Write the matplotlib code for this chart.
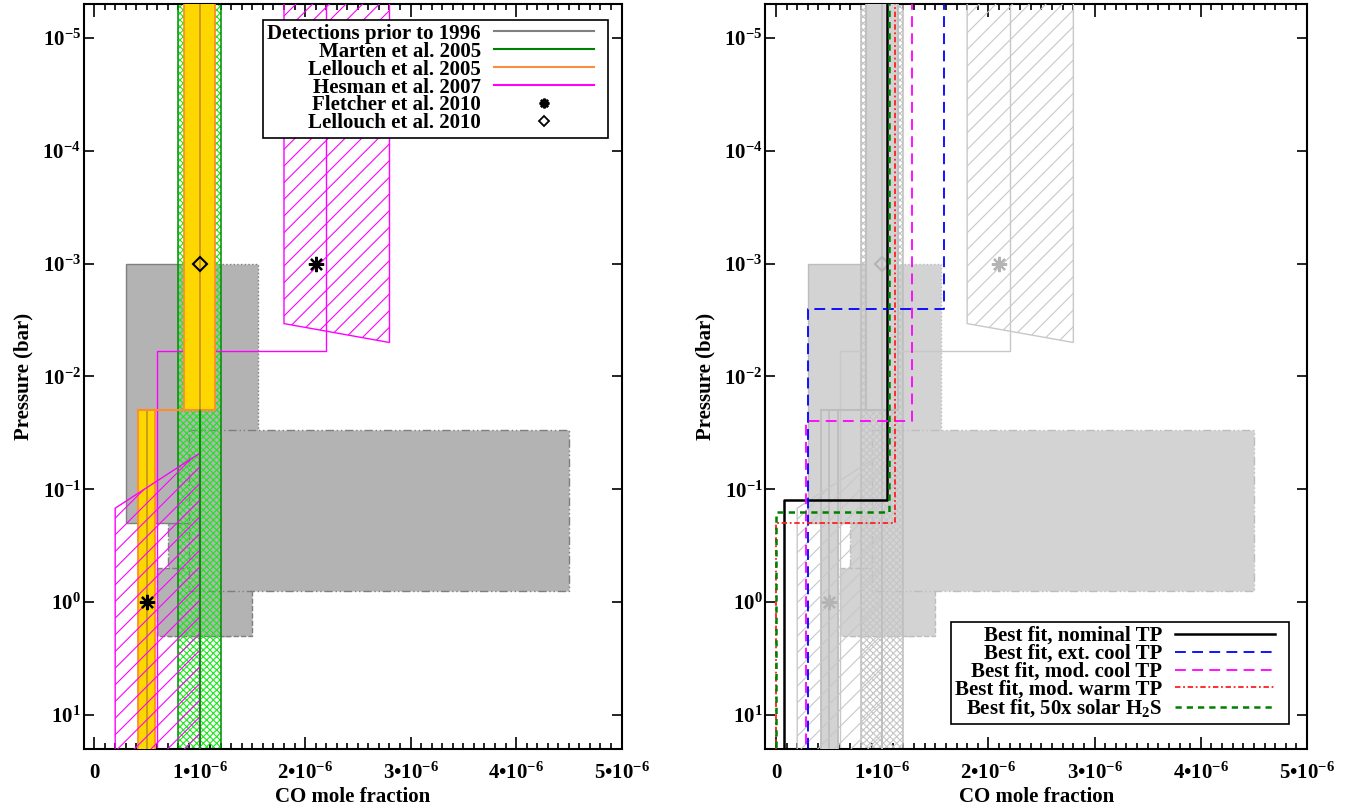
import numpy as np
import matplotlib.pyplot as plt
import matplotlib.ticker as mticker
from matplotlib.patches import Rectangle, Polygon
from matplotlib.lines import Line2D
from matplotlib.legend_handler import HandlerLine2D

plt.rcParams['font.family'] = ['Liberation Serif', 'DejaVu Serif']
plt.rcParams['font.weight'] = 'bold'
plt.rcParams['axes.labelweight'] = 'bold'
plt.rcParams['mathtext.fontset'] = 'custom'
plt.rcParams['mathtext.rm'] = 'Liberation Serif:bold'
plt.rcParams['mathtext.it'] = 'Liberation Serif:bold:italic'
plt.rcParams['mathtext.bf'] = 'Liberation Serif:bold'
plt.rcParams['mathtext.default'] = 'bf'
plt.rcParams['hatch.linewidth'] = 0.8

FS = 15

# CO mole fraction vs pressure (bar)
# detections prior to 1996: boxes in (x range, p range)
old_xmin = [0.7e-6, 0.6e-6, 0.3e-6, 1.0e-6, 0.9e-6]
old_xmax = [1.3e-6, 1.5e-6, 1.0e-6, 1.55e-6, 4.5e-6]
old_ptop = [0.2, 0.5, 1e-3, 1e-3, 0.03]
old_pbot = [2.0, 2.0, 0.2, 0.2, 0.8]
old_style = ['-.', '--', '-', ':', (0, (6, 2, 1, 2, 1, 2))]

# Marten et al. 2005: uniform profile with error range
marten_x = [0.8e-6, 1.0e-6, 1.2e-6]

# Lellouch et al. 2005: two-layer profile, step at 0.02 bar
lell05_step = 0.02
lell05_upper = [0.85e-6, 1.0e-6, 1.15e-6]
lell05_lower = [0.42e-6, 0.5e-6, 0.58e-6]

# Hesman et al. 2007: step profile and uncertainty envelopes
hes_step = 6e-3
hes_upper_x, hes_lower_x = 2.2e-6, 0.6e-6
hes_env1_x = [1.8e-6, 1.8e-6, 2.8e-6, 2.8e-6]
hes_env1_p = [1e-6, 3.4e-3, 5e-3, 1e-6]
hes_env2_x = [0.2e-6, 0.2e-6, 1.0e-6, 1.0e-6]
hes_env2_p = [100, 0.147, 0.048, 100]

# point measurements
fletcher_x = [2.1e-6, 0.5e-6]
fletcher_p = [1e-3, 1.0]
lell10_x = [1.0e-6]
lell10_p = [1e-3]

# best-fit step profiles: upper value, lower value, step pressure
fit_labels = ['Best fit, nominal TP', 'Best fit, ext. cool TP',
              'Best fit, mod. cool TP', 'Best fit, mod. warm TP',
              'Best fit, 50x solar H$_2$S']
fit_upper = [1.05e-6, 1.58e-6, 1.28e-6, 1.12e-6, 1.065e-6]
fit_lower = [0.075e-6, 0.30e-6, 0.28e-6, 0.0, 0.0]
fit_pstep = [0.125, 2.5e-3, 0.025, 0.2, 0.16]
fit_colors = ['black', '#0000ff', '#ff00ff', '#ff2020', '#008000']
fit_lw = [1.8, 1.3, 1.3, 1.3, 1.8]
fit_dash = ['-', (0, (6, 3.5)), (0, (6, 3.5)), (0, (3, 1.5, 1, 1.5)), (0, (2.5, 2))]

P_TOP, P_BOT = 1e-6, 20.0
y_decades = [-5, -4, -3, -2, -1, 0, 1]

legend_labels = ['Detections prior to 1996', 'Marten et al. 2005',
                 'Lellouch et al. 2005', 'Hesman et al. 2007',
                 'Fletcher et al. 2010', 'Lellouch et al. 2010']

colours = {
    True: dict(box='#b3b3b3', boxedge='#7f7f7f', hatch='#1ee61e', marten='#008c00',
               yellow='#ffd700', orange='#ff8c28', centre='#c8961e',
               hes='#ff00ff', mark='black'),
    False: dict(box='#d3d3d3', boxedge='#bdbdbd', hatch='#c6c6c6', marten='#bdbdbd',
                yellow='#d3d3d3', orange='#bdbdbd', centre='#bdbdbd',
                hes='#c8c8c8', mark='#b4b4b4'),
}


class ShortLine(HandlerLine2D):
    """Legend line that leaves some room between the sample and the frame."""

    def create_artists(self, legend, orig_handle, xdescent, ydescent, width, height,
                       fontsize, trans):
        return super().create_artists(legend, orig_handle, xdescent, ydescent,
                                      width - 0.47 * fontsize, height, fontsize, trans)


def draw_published(ax, bright):
    c = colours[bright]
    for x0, x1, p0, p1, ls in zip(old_xmin, old_xmax, old_ptop, old_pbot, old_style):
        ax.add_patch(Rectangle((x0, p0), x1 - x0, p1 - p0, facecolor=c['box'],
                               edgecolor=c['boxedge'], lw=1.0, ls=ls, zorder=1))
    # Marten: cross-hatched band
    ax.add_patch(Rectangle((marten_x[0], P_TOP / 10), marten_x[2] - marten_x[0], P_BOT * 10,
                           facecolor='none', edgecolor=c['hatch'], hatch='xxxxx', lw=0, zorder=2))
    for xv in marten_x:
        ax.plot([xv, xv], [P_TOP / 10, P_BOT * 10], color=c['marten'], lw=1.1, zorder=2.2)
    # Hesman profile
    ax.plot([hes_upper_x, hes_upper_x, hes_lower_x, hes_lower_x],
            [P_TOP / 10, hes_step, hes_step, P_BOT * 10], color=c['hes'], lw=1.0, zorder=2.5)
    # Lellouch 2005 boxes
    for (x0, xm, x1), p0, p1 in [(lell05_upper, P_TOP / 10, lell05_step),
                                 (lell05_lower, lell05_step, P_BOT * 10)]:
        ax.add_patch(Rectangle((x0, p0), x1 - x0, p1 - p0, facecolor=c['yellow'],
                               edgecolor=c['orange'], lw=1.3, zorder=3))
        ax.plot([xm, xm], [p0, p1], color=c['centre'], lw=1.3, zorder=3.2)
    ax.plot([lell05_lower[0], lell05_upper[2]], [lell05_step, lell05_step],
            color=c['orange'], lw=1.5, zorder=3.3)
    # Hesman envelopes
    for xs, ps in [(hes_env1_x, hes_env1_p), (hes_env2_x, hes_env2_p)]:
        ax.add_patch(Polygon(np.column_stack([xs, ps]), closed=True, facecolor='none',
                             edgecolor=c['hes'], hatch='//', lw=1.0, zorder=4))
    ax.plot([marten_x[1], marten_x[1]], [lell05_step, P_BOT * 10], color=c['marten'],
            lw=1.1, zorder=4.2)
    ax.plot(fletcher_x, fletcher_p, ls='none', marker=(8, 2, 0), ms=11, mew=1.6,
            color=c['mark'], zorder=5)
    ax.plot(lell10_x, lell10_p, ls='none', marker='D', ms=7, mew=1.5,
            mfc='none', mec=c['mark'], zorder=5)


def style_axes(ax):
    ax.set_yscale('log')
    ax.set_xlim(-1e-7, 5e-6)
    ax.set_ylim(P_BOT, 5e-6)
    ax.xaxis.set_major_locator(mticker.MultipleLocator(1e-6))
    ax.xaxis.set_minor_locator(mticker.MultipleLocator(1e-7))
    ax.yaxis.set_major_locator(mticker.FixedLocator([10.0 ** d for d in y_decades]))
    ax.yaxis.set_minor_locator(mticker.NullLocator())
    ax.xaxis.set_major_formatter(mticker.FuncFormatter(
        lambda v, pos: '0' if abs(v) < 1e-9 else f'${int(round(v * 1e6))}\u2022 10^{{-6}}$'))
    ax.yaxis.set_major_formatter(mticker.FuncFormatter(
        lambda v, pos: f'$10^{{{int(round(np.log10(v)))}}}$'))
    ax.tick_params(which='both', direction='in', top=True, right=True, labelsize=FS, width=1.2)
    ax.tick_params(axis='x', which='major', length=9, pad=10)
    ax.tick_params(axis='x', which='minor', length=4.5)
    ax.tick_params(axis='y', which='major', length=7.5, pad=2)
    for lab in ax.get_xticklabels() + ax.get_yticklabels():
        lab.set_fontweight('bold')
    for s in ax.spines.values():
        s.set_linewidth(1.5)
    ax.set_xlabel('CO mole fraction', fontsize=FS, labelpad=2)
    ax.set_ylabel('Pressure (bar)', fontsize=FS, labelpad=6)


legend_opts = dict(borderaxespad=0, fontsize=FS, markerfirst=False, handlelength=5.3,
                   handletextpad=0.6, borderpad=0.2, fancybox=False, framealpha=1,
                   edgecolor='black', labelspacing=-0.1, handler_map={Line2D: ShortLine()})

fig = plt.figure(figsize=(13.56, 8.07), dpi=100)
ax1 = fig.add_axes([0.0616, 0.0719, 0.3968, 0.9232])
ax2 = fig.add_axes([0.5644, 0.0719, 0.3995, 0.9232])

draw_published(ax1, True)
style_axes(ax1)

handles = [Line2D([], [], color='#808080', lw=1.5),
           Line2D([], [], color='#008000', lw=1.5),
           Line2D([], [], color='#ff8c3c', lw=1.5),
           Line2D([], [], color='#ff00ff', lw=1.5),
           Line2D([], [], ls='none', marker=(8, 2, 0), ms=7, mew=1.8, color='black'),
           Line2D([], [], ls='none', marker='D', ms=5, mew=1.3, mfc='none', mec='black')]
leg = ax1.legend(handles, legend_labels, loc='upper right', bbox_to_anchor=(0.975, 0.979),
                 **legend_opts)
leg.get_frame().set_linewidth(1.2)

draw_published(ax2, False)
for xu, xl, ps, col, lw, ls, lab in zip(fit_upper, fit_lower, fit_pstep, fit_colors,
                                        fit_lw, fit_dash, fit_labels):
    ax2.plot([xu, xu, xl, xl], [P_TOP, ps, ps, P_BOT], color=col, lw=lw, ls=ls,
             zorder=10, label=lab)
style_axes(ax2)
leg2 = ax2.legend(loc='lower right', bbox_to_anchor=(0.9675, 0.034), **legend_opts)
leg2.get_frame().set_linewidth(1.2)

fig.savefig('out.png', dpi=100)
